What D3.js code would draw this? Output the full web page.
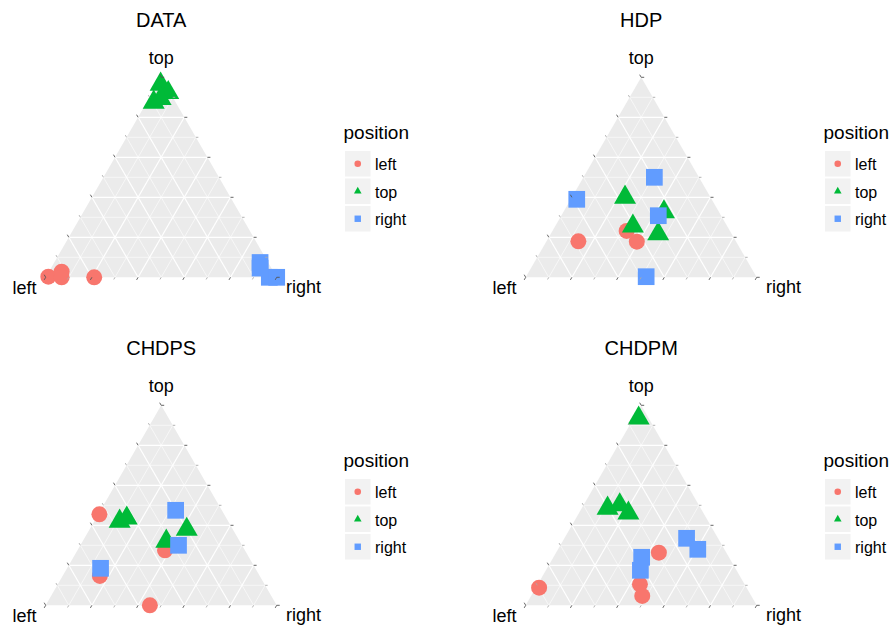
<!DOCTYPE html>
<html>
<head>
<meta charset="utf-8">
<script src="https://cdn.jsdelivr.net/npm/d3@7"></script>
<style>
html,body{margin:0;padding:0;background:#fff;}
svg{display:block;font-family:"Liberation Sans",Arial,Helvetica,sans-serif;}
</style>
</head>
<body>
<svg id="chart" width="891" height="625"></svg>
<script>
// Panels
const panelTitles = ["DATA", "HDP", "CHDPS", "CHDPM"];
const groups = ["left", "top", "right"];
const groupColors = ["#F8766D", "#00BA38", "#619CFF"];
const axisLabels = ["left", "top", "right"];
const legendTitle = "position";

// compositions: [left, top, right]
const DATA_left  = [[0.987,0.003,0.010],[0.917,0.028,0.055],[0.931,0.0,0.069],[0.79,0.0,0.21]];
const DATA_top   = [[0.020,0.965,0.015],[0.008,0.923,0.069],[0.095,0.875,0.030],[0.056,0.893,0.051]];
const DATA_right = [[0.035,0.074,0.891],[0.049,0.046,0.905],[0.032,0.0,0.968],[0.0,0.0,1.0]];

const HDP_left  = [[0.682,0.180,0.138],[0.447,0.232,0.321],[0.430,0.178,0.392]];
const HDP_top   = [[0.370,0.400,0.230],[0.238,0.327,0.435],[0.408,0.256,0.336],[0.318,0.217,0.465]];
const HDP_right = [[0.584,0.390,0.026],[0.193,0.500,0.307],[0.272,0.308,0.420],[0.477,0.003,0.520]];

const CHDPS_left  = [[0.540,0.455,0.005],[0.692,0.147,0.161],[0.346,0.275,0.379],[0.549,0.0,0.451]];
const CHDPS_top   = [[0.470,0.420,0.110],[0.431,0.436,0.133],[0.200,0.379,0.421],[0.318,0.320,0.362]];
const CHDPS_right = [[0.200,0.475,0.325],[0.275,0.300,0.425],[0.670,0.185,0.145]];

const CHDPM_left  = [[0.898,0.088,0.014],[0.292,0.263,0.445],[0.453,0.105,0.442],[0.472,0.047,0.481]];
const CHDPM_top   = [[0.043,0.936,0.021],[0.403,0.485,0.112],[0.342,0.502,0.156],[0.325,0.461,0.214]];
const CHDPM_right = [[0.136,0.335,0.529],[0.115,0.280,0.605],[0.378,0.240,0.382],[0.416,0.175,0.409]];

const panelData = [
  [DATA_left, DATA_top, DATA_right],
  [HDP_left, HDP_top, HDP_right],
  [CHDPS_left, CHDPS_top, CHDPS_right],
  [CHDPM_left, CHDPM_top, CHDPM_right]
];

const gridMajor = [0.2, 0.4, 0.6, 0.8];
const gridMinor = [0.1, 0.3, 0.5, 0.7, 0.9];
const tickVals = d3.range(0, 11).map(i => i / 10);

const svg = d3.select("#chart");
const offsets = [[0,0],[480,0],[0,328],[480,328]];

// triangle geometry (panel-relative)
const Lx = 45.7, Rx = 276.7, By = 277.3, H = 200;
const xS = d3.scaleLinear().domain([0,1]).range([Lx, Rx]);
const yS = d3.scaleLinear().domain([0,1]).range([By, By - H]);
function proj(c){
  const s = c[0]+c[1]+c[2];
  const l = c[0]/s, t = c[1]/s, r = c[2]/s;
  return [xS(r + t/2), yS(t)];
}

const triPath = (side) => {
  const a = side/Math.sqrt(3), b = side/(2*Math.sqrt(3));
  return `M0,${-a}L${side/2},${b}L${-side/2},${b}Z`;
};

function drawShape(g, gi, x, y, size){
  if (gi === 0){
    g.append("circle").attr("cx", x).attr("cy", y).attr("r", size.r).attr("fill", groupColors[0]);
  } else if (gi === 1){
    g.append("path").attr("d", triPath(size.t)).attr("transform", `translate(${x},${y})`).attr("fill", groupColors[1]);
  } else {
    g.append("rect").attr("x", x - size.s/2).attr("y", y - size.s/2).attr("width", size.s).attr("height", size.s).attr("fill", groupColors[2]);
  }
}

panelTitles.forEach((title, pi) => {
  const g = svg.append("g").attr("transform", `translate(${offsets[pi][0]},${offsets[pi][1]})`);
  // title
  g.append("text").attr("x", (Lx+Rx)/2).attr("y", 27).attr("text-anchor","middle")
    .attr("font-size", 20).attr("fill","#000").text(title);
  // background triangle
  const verts = [[1,0,0],[0,1,0],[0,0,1]].map(proj);
  g.append("path").attr("d", "M" + verts.map(v => v.join(",")).join("L") + "Z").attr("fill", "#EBEBEB");
  // gridlines
  const lines = (v) => [
    [[1-v, v, 0],[0, v, 1-v]],   // constant top
    [[v, 1-v, 0],[v, 0, 1-v]],   // constant left
    [[0, 1-v, v],[1-v, 0, v]]    // constant right
  ];
  gridMinor.forEach(v => lines(v).forEach(seg => {
    const a = proj(seg[0]), b = proj(seg[1]);
    g.append("line").attr("x1",a[0]).attr("y1",a[1]).attr("x2",b[0]).attr("y2",b[1])
      .attr("stroke","#fff").attr("stroke-width",0.6);
  }));
  gridMajor.forEach(v => lines(v).forEach(seg => {
    const a = proj(seg[0]), b = proj(seg[1]);
    g.append("line").attr("x1",a[0]).attr("y1",a[1]).attr("x2",b[0]).attr("y2",b[1])
      .attr("stroke","#fff").attr("stroke-width",1.2);
  }));
  // points
  const pg = g.append("g");
  panelData[pi].forEach((arr, gi) => {
    arr.forEach(c => {
      const p = proj(c);
      drawShape(pg, gi, p[0], p[1], {r: 8, t: 22, s: 16.7});
    });
  });
  // ticks
  const tg = g.append("g");
  tickVals.forEach((v, i) => {
    const major = i % 2 === 0;
    const col = major ? "#555" : "#aaa";
    const len = major ? 3 : 2.5;
    // left edge (r = 0) -> up-left
    let p = proj([1-v, v, 0]);
    tg.append("line").attr("x1",p[0]).attr("y1",p[1]).attr("x2",p[0]-0.5*len).attr("y2",p[1]-0.866*len)
      .attr("stroke",col).attr("stroke-width",0.9);
    // right edge (l = 0) -> right
    p = proj([0, 1-v, v]);
    tg.append("line").attr("x1",p[0]).attr("y1",p[1]).attr("x2",p[0]+len).attr("y2",p[1])
      .attr("stroke",col).attr("stroke-width",0.9);
    // bottom (t = 0) -> down-left
    p = proj([v, 0, 1-v]);
    tg.append("line").attr("x1",p[0]).attr("y1",p[1]).attr("x2",p[0]-0.5*len).attr("y2",p[1]+0.866*len)
      .attr("stroke",col).attr("stroke-width",0.9);
  });
  // axis labels
  const apex = proj([0,1,0]);
  g.append("text").attr("x", apex[0]).attr("y", 63.5).attr("text-anchor","middle")
    .attr("font-size", 18).attr("fill","#000").text(axisLabels[1]);
  g.append("text").attr("x", 36.5).attr("y", 293.5).attr("text-anchor","end")
    .attr("font-size", 18).attr("fill","#000").text(axisLabels[0]);
  g.append("text").attr("x", 286).attr("y", 292.5).attr("text-anchor","start")
    .attr("font-size", 18).attr("fill","#000").text(axisLabels[2]);
  // legend
  const lg = g.append("g");
  lg.append("text").attr("x", 343.5).attr("y", 139).attr("font-size", 19).attr("fill","#000").text(legendTitle);
  const keyY = [151, 178.5, 206];
  groups.forEach((grp, gi) => {
    lg.append("rect").attr("x", 345).attr("y", keyY[gi]).attr("width", 25.5).attr("height", 25.5).attr("fill", "#F2F2F2");
    drawShape(lg, gi, 345 + 12.75, keyY[gi] + 12.75, {r: 3.3, t: 7.6, s: 6.4});
    lg.append("text").attr("x", 375).attr("y", keyY[gi] + 19).attr("font-size", 16).attr("fill","#000").text(grp);
  });
});
</script>
</body>
</html>
